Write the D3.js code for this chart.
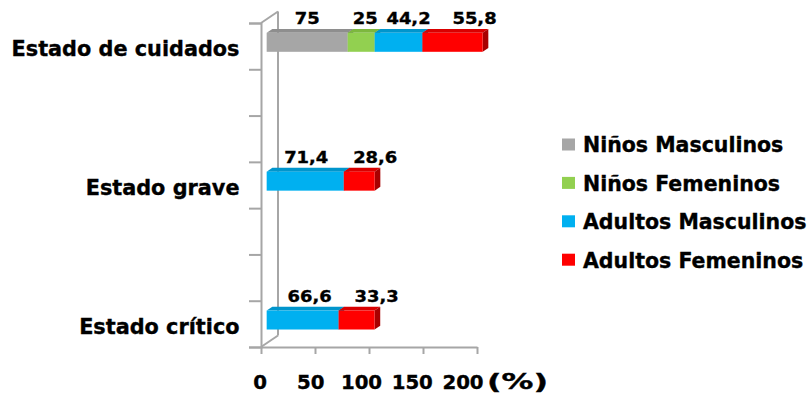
<!DOCTYPE html>
<html>
<head>
<meta charset="utf-8">
<script src="https://cdn.jsdelivr.net/npm/d3@7"></script>
<style>
  html, body { margin: 0; padding: 0; background: #fff; }
  svg { display: block; }
  text { font-family: "DejaVu Sans", Verdana, sans-serif; font-weight: bold; fill: #000; stroke: #000; stroke-width: 0.35px; }
</style>
</head>
<body>
<svg id="chart" width="810" height="394"></svg>
<script>
// Patient distribution by state (percent per group)
const categories = ["Estado de cuidados", "Estado grave", "Estado crítico"];
const seriesNames = ["Niños Masculinos", "Niños Femeninos", "Adultos Masculinos", "Adultos Femeninos"];
const ninosMasculinos = [75, 0, 0];
const ninosFemeninos = [25, 0, 0];
const adultosMasculinos = [44.2, 71.4, 66.6];
const adultosFemeninos = [55.8, 28.6, 33.3];
const xTicks = [0, 50, 100, 150, 200];
const xUnit = "(%)";

const seriesColors = ["#A6A6A6", "#92D050", "#00B0F0", "#FF0000"];
const topColors = ["#8E8E8E", "#7DB83E", "#0095CC", "#D90000"];
const sideColors = ["#7A7A7A", "#6A9E34", "#007FAE", "#A80000"];

// label nudges along x for readability (per category, per series)
const labelNudge = [[0, 4, 10, 22], [0, 0, 1, 16], [0, 0, 7, 20]];

const svg = d3.select("#chart");
const fmt = d3.formatLocale({ decimal: ",", thousands: ".", grouping: [3], currency: ["", ""] }).format("~g");

const rows = categories.map((c, i) => ({
  cat: c,
  [seriesNames[0]]: ninosMasculinos[i],
  [seriesNames[1]]: ninosFemeninos[i],
  [seriesNames[2]]: adultosMasculinos[i],
  [seriesNames[3]]: adultosFemeninos[i]
}));
const stacked = d3.stack().keys(seriesNames)(rows);

// 3D box geometry
const DX = 17, DY = -11.5;          // full depth of the wall
const tFront = 1 / 3, tBack = 2 / 3; // bar depth span
const off = t => [DX * t, DY * t];

const x = d3.scaleLinear().domain([0, 200]).range([261, 477]);
const slotCount = 7;
const slot = d3.scaleBand().domain(d3.range(slotCount)).range([23, 347]);
const slotOf = i => i * 3;
const slotEdge = d3.scaleLinear().domain([0, slotCount]).range([23, 347]);
const barH = slot.bandwidth() * 0.41;

// walls
const wall = svg.append("g").attr("stroke", "#A6A6A6").attr("stroke-width", 2).attr("fill", "none");
const [wx, wy] = off(1);
wall.append("line").attr("x1", x(0) + wx).attr("x2", x(0) + wx).attr("y1", 23 + wy).attr("y2", 347 + wy);
wall.append("line").attr("x1", x(0)).attr("y1", 23).attr("x2", x(0) + wx).attr("y2", 23 + wy);
wall.append("line").attr("x1", x(0)).attr("y1", 347).attr("x2", x(0) + wx).attr("y2", 347 + wy);

// y axis (category slots)
const yAxis = svg.append("g").attr("transform", `translate(${x(0)},0)`)
  .call(d3.axisLeft(slotEdge).tickValues(d3.range(slotCount + 1)).tickSize(12).tickFormat(""));
yAxis.selectAll("path, line").attr("stroke", "#A6A6A6").attr("stroke-width", 2);

// x axis
const xAxis = svg.append("g").attr("transform", "translate(0,347)")
  .call(d3.axisBottom(x).tickValues(xTicks).tickSize(7).tickSizeOuter(0).tickFormat(""));
xAxis.selectAll("path, line").attr("stroke", "#A6A6A6").attr("stroke-width", 2);

const xLabel = d3.scaleLinear().domain([0, 200]).range([260, 463]);
svg.append("g").selectAll("text").data(xTicks).join("text")
  .attr("text-anchor", "middle")
  .attr("font-size", 19)
  .attr("transform", d => `translate(${xLabel(d)},389) scale(1.04,1)`)
  .text(d => d);
svg.append("text").attr("x", 487).attr("y", 389).attr("font-size", 21)
  .attr("textLength", 61).attr("lengthAdjust", "spacingAndGlyphs").text(xUnit);

// category labels
svg.append("g").selectAll("text").data(categories).join("text")
  .attr("text-anchor", "end")
  .attr("x", 239.5)
  .attr("y", (d, i) => slot(slotOf(i)) + slot.bandwidth() / 2 + 10)
  .attr("font-size", 20.8)
  .text(d => d);

// bars
const [fx, fy] = off(tFront);
const [bx, by] = off(tBack);
const bars = svg.append("g");
categories.forEach((c, ci) => {
  const cy = slot(slotOf(ci)) + slot.bandwidth() / 2;
  const y0 = cy - barH / 2 + fy, y1 = cy + barH / 2 + fy;
  stacked.forEach((s, si) => {
    const [a, b] = s[ci];
    if (b - a <= 0) return;
    const xa = x(a) + fx, xb = x(b) + fx;
    const ddx = bx - fx, ddy = by - fy;
    // top face
    bars.append("path")
      .attr("d", `M${xa},${y0}L${xa + ddx},${y0 + ddy}L${xb + ddx},${y0 + ddy}L${xb},${y0}Z`)
      .attr("fill", topColors[si]);
    // right side face
    bars.append("path")
      .attr("d", `M${xb},${y0}L${xb + ddx},${y0 + ddy}L${xb + ddx},${y1 + ddy}L${xb},${y1}Z`)
      .attr("fill", sideColors[si]);
    // front face
    bars.append("rect")
      .attr("x", xa).attr("y", y0).attr("width", xb - xa).attr("height", y1 - y0)
      .attr("fill", seriesColors[si]);
  });
});

// value labels
const labels = svg.append("g");
categories.forEach((c, ci) => {
  const cy = slot(slotOf(ci)) + slot.bandwidth() / 2;
  const topY = cy - barH / 2 + fy + (by - fy);
  stacked.forEach((s, si) => {
    const [a, b] = s[ci];
    const v = b - a;
    if (v <= 0) return;
    const lx = (x(a) + x(b)) / 2 + fx + labelNudge[ci][si];
    labels.append("text")
      .attr("text-anchor", "middle")
      .attr("font-size", 16)
      .attr("stroke-width", 0.8)
      .attr("transform", `translate(${lx},${topY - 4.5}) scale(1.12,1)`)
      .text(fmt(+v.toFixed(1)));
  });
});

// legend
const legend = svg.append("g").selectAll("g").data(seriesNames).join("g")
  .attr("transform", (d, i) => `translate(562,${138.5 + i * 38.4})`);
legend.append("rect").attr("width", 13).attr("height", 12).attr("fill", (d, i) => seriesColors[i]);
legend.append("text").attr("x", 21).attr("y", 13.8).attr("font-size", 20.5).text(d => d);
</script>
</body>
</html>
